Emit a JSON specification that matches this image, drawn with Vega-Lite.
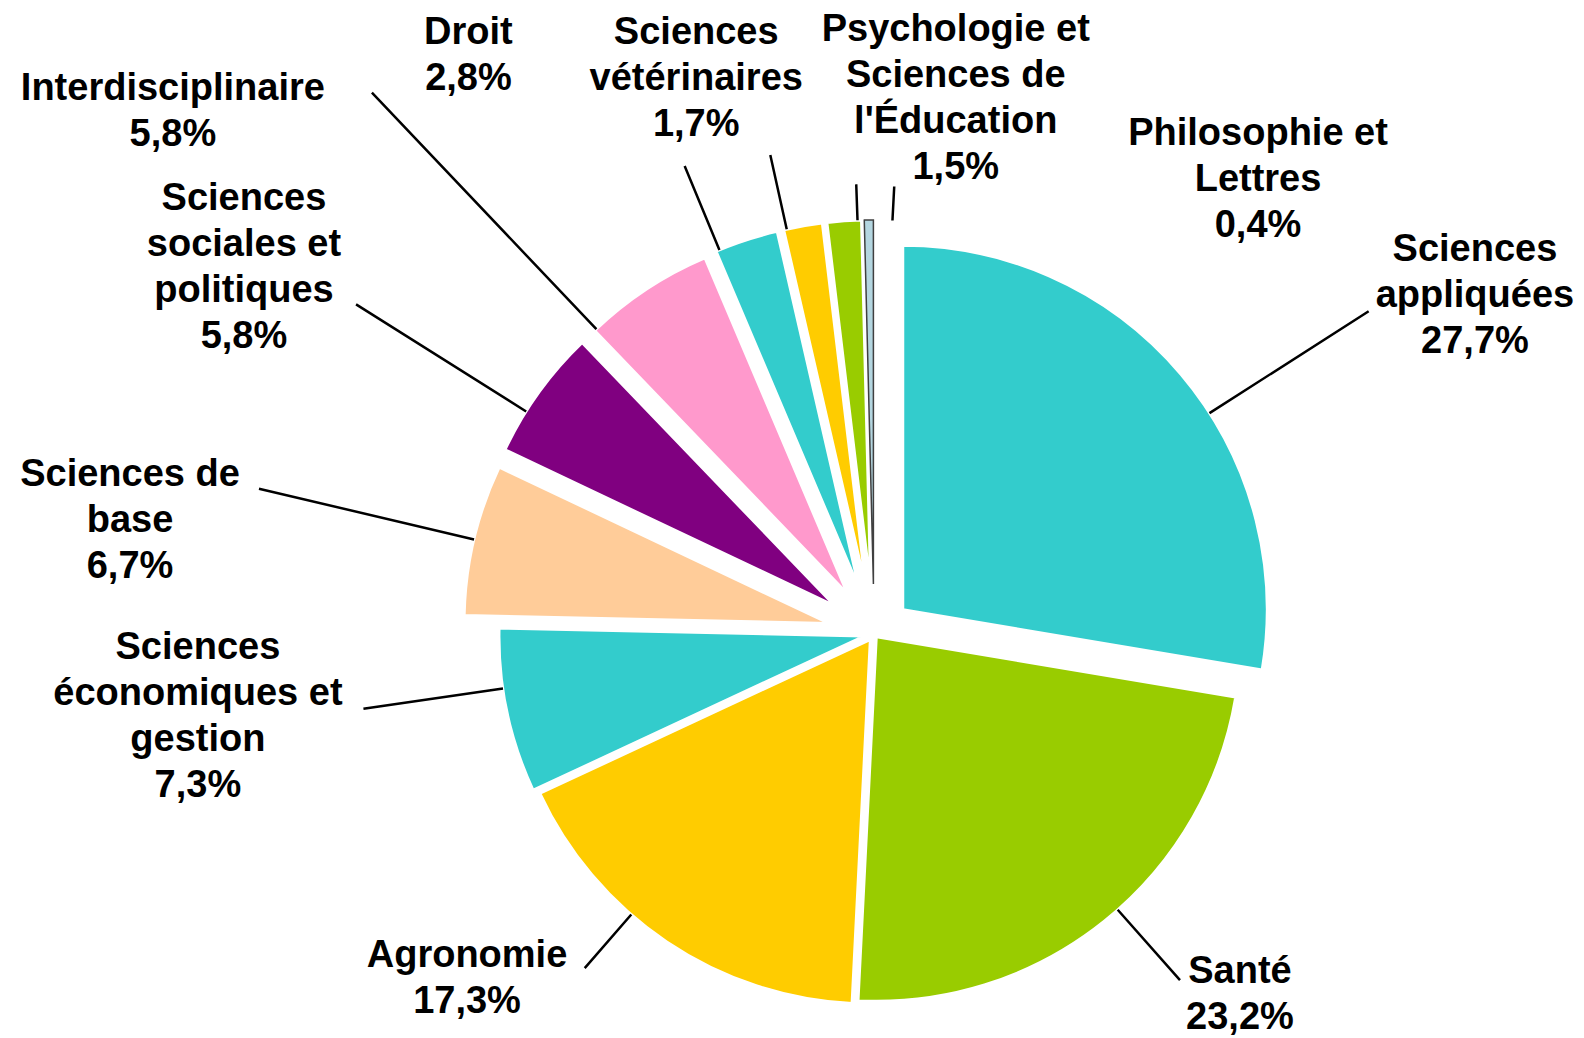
{
  "$schema": "https://vega.github.io/schema/vega-lite/v6.json",
  "width": 1420,
  "height": 808,
  "autosize": "none",
  "padding": {"left": 164, "top": 230, "right": 0, "bottom": 0},
  "background": "white",
  "config": {"view": {"stroke": null}},
  "data": {"values": [
    {"idx": 1, "name": "Sciences appliquées", "value": 27.7, "label": "Sciences\nappliquées\n27,7%"},
    {"idx": 2, "name": "Santé", "value": 23.2, "label": "Santé\n23,2%"},
    {"idx": 3, "name": "Agronomie", "value": 17.3, "label": "Agronomie\n17,3%"},
    {"idx": 4, "name": "Sciences économiques et gestion", "value": 7.3, "label": "Sciences\néconomiques et\ngestion\n7,3%"},
    {"idx": 5, "name": "Sciences de base", "value": 6.7, "label": "Sciences de\nbase\n6,7%"},
    {"idx": 6, "name": "Sciences sociales et politiques", "value": 5.8, "label": "Sciences\nsociales et\npolitiques\n5,8%"},
    {"idx": 7, "name": "Interdisciplinaire", "value": 5.8, "label": "Interdisciplinaire\n5,8%"},
    {"idx": 8, "name": "Droit", "value": 2.8, "label": "Droit\n2,8%"},
    {"idx": 9, "name": "Sciences vétérinaires", "value": 1.7, "label": "Sciences\nvétérinaires\n1,7%"},
    {"idx": 10, "name": "Psychologie et Sciences de l'Éducation", "value": 1.5, "label": "Psychologie et\nSciences de\nl'Éducation\n1,5%"},
    {"idx": 11, "name": "Philosophie et Lettres", "value": 0.4, "label": "Philosophie et\nLettres\n0,4%"}
  ]},
  "transform": [
    {"stack": "value", "groupby": [], "sort": [{"field": "idx", "order": "ascending"}], "as": ["start", "end"]}
  ],
  "encoding": {
    "theta": {"field": "start", "type": "quantitative"},
    "theta2": {"field": "end"}
  },
  "layer": [
    {"transform": [{"filter": "datum.idx === 1"}], "mark": {"type": "arc", "outerRadius": 364, "xOffset": 29.0, "yOffset": -24.5, "stroke": "white", "strokeWidth": 2.5, "fill": "#33CCCC"}},
    {"transform": [{"filter": "datum.idx === 2"}], "mark": {"type": "arc", "outerRadius": 364, "xOffset": 2.5, "yOffset": 3.1, "stroke": "white", "strokeWidth": 2.5, "fill": "#99CC00"}},
    {"transform": [{"filter": "datum.idx === 3"}], "mark": {"type": "arc", "outerRadius": 364, "xOffset": -3.9, "yOffset": 5.8, "stroke": "white", "strokeWidth": 2.5, "fill": "#FFCC00"}},
    {"transform": [{"filter": "datum.idx === 4"}], "mark": {"type": "arc", "outerRadius": 364, "xOffset": -10.8, "yOffset": 2.3, "stroke": "white", "strokeWidth": 2.5, "fill": "#33CCCC"}},
    {"transform": [{"filter": "datum.idx === 5"}], "mark": {"type": "arc", "outerRadius": 364, "xOffset": -45.7, "yOffset": -10.8, "stroke": "white", "strokeWidth": 2.5, "fill": "#FFCC99"}},
    {"transform": [{"filter": "datum.idx === 6"}], "mark": {"type": "arc", "outerRadius": 364, "xOffset": -39.8, "yOffset": -28.6, "stroke": "white", "strokeWidth": 2.5, "fill": "#800080"}},
    {"transform": [{"filter": "datum.idx === 7"}], "mark": {"type": "arc", "outerRadius": 364, "xOffset": -27.0, "yOffset": -40.9, "stroke": "white", "strokeWidth": 2.5, "fill": "#FF99CC"}},
    {"transform": [{"filter": "datum.idx === 8"}], "mark": {"type": "arc", "outerRadius": 364, "xOffset": -15.5, "yOffset": -47.6, "stroke": "white", "strokeWidth": 2.5, "fill": "#33CCCC"}},
    {"transform": [{"filter": "datum.idx === 9"}], "mark": {"type": "arc", "outerRadius": 364, "xOffset": -8.6, "yOffset": -49.3, "stroke": "white", "strokeWidth": 2.5, "fill": "#FFCC00"}},
    {"transform": [{"filter": "datum.idx === 10"}], "mark": {"type": "arc", "outerRadius": 364, "xOffset": -3.6, "yOffset": -49.9, "stroke": "white", "strokeWidth": 2.5, "fill": "#99CC00"}},
    {"transform": [{"filter": "datum.idx === 11"}], "mark": {"type": "arc", "outerRadius": 364, "xOffset": -0.6, "yOffset": -50.0, "stroke": "#404040", "strokeWidth": 1.5, "fill": "#B4D6E0"}},

    {"transform": [{"filter": "datum.idx === 1"}], "mark": {"type": "arc", "innerRadius": 364, "outerRadius": 553, "padAngle": 3.1, "thetaOffset": 0.1326, "theta2Offset": 0.1326, "xOffset": 29.0, "yOffset": -24.5, "fill": "transparent", "stroke": "black", "strokeWidth": 2.5}},
    {"transform": [{"filter": "datum.idx === 2"}], "mark": {"type": "arc", "innerRadius": 364, "outerRadius": 458, "padAngle": 3.1, "thetaOffset": -0.0471, "theta2Offset": -0.0471, "xOffset": 2.5, "yOffset": 3.1, "fill": "transparent", "stroke": "black", "strokeWidth": 2.5}},
    {"transform": [{"filter": "datum.idx === 3"}], "mark": {"type": "arc", "innerRadius": 364, "outerRadius": 435, "padAngle": 3.1, "thetaOffset": 0.1230, "theta2Offset": 0.1230, "xOffset": -3.9, "yOffset": 5.8, "fill": "transparent", "stroke": "black", "strokeWidth": 2.5}},
    {"transform": [{"filter": "datum.idx === 4"}], "mark": {"type": "arc", "innerRadius": 364, "outerRadius": 505, "padAngle": 3.1, "thetaOffset": 0.0628, "theta2Offset": 0.0628, "xOffset": -10.8, "yOffset": 2.3, "fill": "transparent", "stroke": "black", "strokeWidth": 2.5}},
    {"transform": [{"filter": "datum.idx === 5"}], "mark": {"type": "arc", "innerRadius": 364, "outerRadius": 585, "padAngle": 3.1, "thetaOffset": 0, "theta2Offset": 0, "xOffset": -45.7, "yOffset": -10.8, "fill": "transparent", "stroke": "black", "strokeWidth": 2.5}},
    {"transform": [{"filter": "datum.idx === 6"}], "mark": {"type": "arc", "innerRadius": 364, "outerRadius": 565, "padAngle": 3.1, "thetaOffset": -0.0620, "theta2Offset": -0.0620, "xOffset": -39.8, "yOffset": -28.6, "fill": "transparent", "stroke": "black", "strokeWidth": 2.5}},
    {"transform": [{"filter": "datum.idx === 7"}], "mark": {"type": "arc", "innerRadius": 364, "outerRadius": 690, "padAngle": 3.1, "thetaOffset": -0.1763, "theta2Offset": -0.1763, "xOffset": -27.0, "yOffset": -40.9, "fill": "transparent", "stroke": "black", "strokeWidth": 2.5}},
    {"transform": [{"filter": "datum.idx === 8"}], "mark": {"type": "arc", "innerRadius": 364, "outerRadius": 455, "padAngle": 3.1, "thetaOffset": -0.0785, "theta2Offset": -0.0785, "xOffset": -15.5, "yOffset": -47.6, "fill": "transparent", "stroke": "black", "strokeWidth": 2.5}},
    {"transform": [{"filter": "datum.idx === 9"}], "mark": {"type": "arc", "innerRadius": 364, "outerRadius": 440, "padAngle": 3.1, "thetaOffset": -0.0454, "theta2Offset": -0.0454, "xOffset": -8.6, "yOffset": -49.3, "fill": "transparent", "stroke": "black", "strokeWidth": 2.5}},
    {"transform": [{"filter": "datum.idx === 10"}], "mark": {"type": "arc", "innerRadius": 364, "outerRadius": 400, "padAngle": 3.1, "thetaOffset": 0.0367, "theta2Offset": 0.0367, "xOffset": -3.6, "yOffset": -49.9, "fill": "transparent", "stroke": "black", "strokeWidth": 2.5}},
    {"transform": [{"filter": "datum.idx === 11"}], "mark": {"type": "arc", "innerRadius": 364, "outerRadius": 398, "padAngle": 3.1, "thetaOffset": 0.0649, "theta2Offset": 0.0649, "xOffset": -0.6, "yOffset": -50.0, "fill": "transparent", "stroke": "black", "strokeWidth": 2.5}},

    {"mark": {"type": "text", "radius": 689.5, "thetaOffset": 0.1899, "dy": -46, "align": "center", "baseline": "middle", "lineBreak": "\n", "lineHeight": 46, "font": "Liberation Sans", "fontWeight": "bold", "fontSize": 38, "color": "black"},
     "encoding": {"theta": {"field": "value", "type": "quantitative", "stack": true}, "theta2": null, "order": {"field": "idx", "type": "quantitative"}, "text": {"condition": {"test": "datum.idx === 1", "field": "label", "type": "nominal"}, "value": ""}}},
    {"mark": {"type": "text", "radius": 514.4, "thetaOffset": -0.1143, "dy": -23, "align": "center", "baseline": "middle", "lineBreak": "\n", "lineHeight": 46, "font": "Liberation Sans", "fontWeight": "bold", "fontSize": 38, "color": "black"},
     "encoding": {"theta": {"field": "value", "type": "quantitative", "stack": true}, "theta2": null, "order": {"field": "idx", "type": "quantitative"}, "text": {"condition": {"test": "datum.idx === 2", "field": "label", "type": "nominal"}, "value": ""}}},
    {"mark": {"type": "text", "radius": 533.5, "thetaOffset": 0.2751, "dy": -23, "align": "center", "baseline": "middle", "lineBreak": "\n", "lineHeight": 46, "font": "Liberation Sans", "fontWeight": "bold", "fontSize": 38, "color": "black"},
     "encoding": {"theta": {"field": "value", "type": "quantitative", "stack": true}, "theta2": null, "order": {"field": "idx", "type": "quantitative"}, "text": {"condition": {"test": "datum.idx === 3", "field": "label", "type": "nominal"}, "value": ""}}},
    {"mark": {"type": "text", "radius": 681.1, "thetaOffset": 0.0855, "dy": -69, "align": "center", "baseline": "middle", "lineBreak": "\n", "lineHeight": 46, "font": "Liberation Sans", "fontWeight": "bold", "fontSize": 38, "color": "black"},
     "encoding": {"theta": {"field": "value", "type": "quantitative", "stack": true}, "theta2": null, "order": {"field": "idx", "type": "quantitative"}, "text": {"condition": {"test": "datum.idx === 4", "field": "label", "type": "nominal"}, "value": ""}}},
    {"mark": {"type": "text", "radius": 752.5, "thetaOffset": -0.0813, "dy": -46, "align": "center", "baseline": "middle", "lineBreak": "\n", "lineHeight": 46, "font": "Liberation Sans", "fontWeight": "bold", "fontSize": 38, "color": "black"},
     "encoding": {"theta": {"field": "value", "type": "quantitative", "stack": true}, "theta2": null, "order": {"field": "idx", "type": "quantitative"}, "text": {"condition": {"test": "datum.idx === 5", "field": "label", "type": "nominal"}, "value": ""}}},
    {"mark": {"type": "text", "radius": 728.6, "thetaOffset": -0.0977, "dy": -69, "align": "center", "baseline": "middle", "lineBreak": "\n", "lineHeight": 46, "font": "Liberation Sans", "fontWeight": "bold", "fontSize": 38, "color": "black"},
     "encoding": {"theta": {"field": "value", "type": "quantitative", "stack": true}, "theta2": null, "order": {"field": "idx", "type": "quantitative"}, "text": {"condition": {"test": "datum.idx === 6", "field": "label", "type": "nominal"}, "value": ""}}},
    {"mark": {"type": "text", "radius": 874.0, "thetaOffset": -0.3478, "dy": -23, "align": "center", "baseline": "middle", "lineBreak": "\n", "lineHeight": 46, "font": "Liberation Sans", "fontWeight": "bold", "fontSize": 38, "color": "black"},
     "encoding": {"theta": {"field": "value", "type": "quantitative", "stack": true}, "theta2": null, "order": {"field": "idx", "type": "quantitative"}, "text": {"condition": {"test": "datum.idx === 7", "field": "label", "type": "nominal"}, "value": ""}}},
    {"mark": {"type": "text", "radius": 706.3, "thetaOffset": -0.2981, "dy": -23, "align": "center", "baseline": "middle", "lineBreak": "\n", "lineHeight": 46, "font": "Liberation Sans", "fontWeight": "bold", "fontSize": 38, "color": "black"},
     "encoding": {"theta": {"field": "value", "type": "quantitative", "stack": true}, "theta2": null, "order": {"field": "idx", "type": "quantitative"}, "text": {"condition": {"test": "datum.idx === 8", "field": "label", "type": "nominal"}, "value": ""}}},
    {"mark": {"type": "text", "radius": 582.8, "thetaOffset": -0.1375, "dy": -46, "align": "center", "baseline": "middle", "lineBreak": "\n", "lineHeight": 46, "font": "Liberation Sans", "fontWeight": "bold", "fontSize": 38, "color": "black"},
     "encoding": {"theta": {"field": "value", "type": "quantitative", "stack": true}, "theta2": null, "order": {"field": "idx", "type": "quantitative"}, "text": {"condition": {"test": "datum.idx === 9", "field": "label", "type": "nominal"}, "value": ""}}},
    {"mark": {"type": "text", "radius": 541.7, "thetaOffset": 0.2236, "dy": -69, "align": "center", "baseline": "middle", "lineBreak": "\n", "lineHeight": 46, "font": "Liberation Sans", "fontWeight": "bold", "fontSize": 38, "color": "black"},
     "encoding": {"theta": {"field": "value", "type": "quantitative", "stack": true}, "theta2": null, "order": {"field": "idx", "type": "quantitative"}, "text": {"condition": {"test": "datum.idx === 10", "field": "label", "type": "nominal"}, "value": ""}}},
    {"mark": {"type": "text", "radius": 594.6, "thetaOffset": 0.7147, "dy": -46, "align": "center", "baseline": "middle", "lineBreak": "\n", "lineHeight": 46, "font": "Liberation Sans", "fontWeight": "bold", "fontSize": 38, "color": "black"},
     "encoding": {"theta": {"field": "value", "type": "quantitative", "stack": true}, "theta2": null, "order": {"field": "idx", "type": "quantitative"}, "text": {"condition": {"test": "datum.idx === 11", "field": "label", "type": "nominal"}, "value": ""}}}
  ]
}
